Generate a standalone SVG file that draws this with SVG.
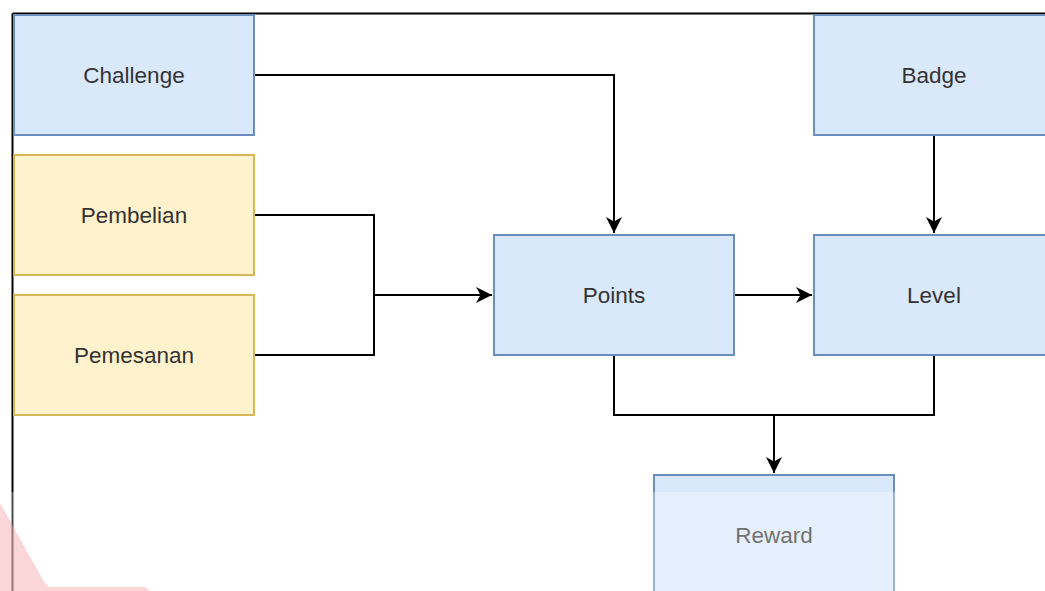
<svg xmlns="http://www.w3.org/2000/svg" width="1045" height="591" viewBox="0 0 1045 591">
  <style>
    .blue { fill: #dae8fc; stroke: #6c8ebf; stroke-width: 2; }
    .yellow { fill: #fff2cc; stroke: #d6b656; stroke-width: 2; }
    .lbl { font-family: "Liberation Sans", Arial, sans-serif; font-size: 22.5px; fill: #333333; text-anchor: middle; dominant-baseline: central; }
    .edge { fill: none; stroke: #000000; stroke-width: 2; }
  </style>
  <defs>
    <marker id="arrow" viewBox="0 0 17 17" refX="16" refY="8.5" markerWidth="17" markerHeight="17" markerUnits="userSpaceOnUse" orient="auto">
      <path d="M16,8.5 L0,0.5 L4.5,8.5 L0,16.5 Z" fill="#000000"/>
    </marker>
  </defs>
  <rect x="0" y="0" width="1045" height="591" fill="#ffffff"/>
  <g id="frame">
    <line x1="12.5" y1="13.5" x2="1045" y2="13.5" stroke="#000" stroke-width="2"/>
    <line x1="12.5" y1="13.5" x2="12.5" y2="591" stroke="#000" stroke-width="2"/>
  </g>
  <g id="connectors">
    <path class="edge" d="M254,75 H614 V233" marker-end="url(#arrow)"/>
    <path class="edge" d="M254,215 H374 V355 H254"/>
    <path class="edge" d="M374,295 H492" marker-end="url(#arrow)"/>
    <path class="edge" d="M734,295 H812" marker-end="url(#arrow)"/>
    <path class="edge" d="M934,135 V233" marker-end="url(#arrow)"/>
    <path class="edge" d="M614,355 V415 H934 V355"/>
    <path class="edge" d="M774,415 V473" marker-end="url(#arrow)"/>
  </g>
  <g id="node-challenge">
    <rect class="blue" x="14" y="15" width="240" height="120"/>
    <text class="lbl" x="134" y="75">Challenge</text>
  </g>
  <g id="node-badge">
    <rect class="blue" x="814" y="15" width="240" height="120"/>
    <text class="lbl" x="934" y="75">Badge</text>
  </g>
  <g id="node-pembelian">
    <rect class="yellow" x="14" y="155" width="240" height="120"/>
    <text class="lbl" x="134" y="215">Pembelian</text>
  </g>
  <g id="node-pemesanan">
    <rect class="yellow" x="14" y="295" width="240" height="120"/>
    <text class="lbl" x="134" y="355">Pemesanan</text>
  </g>
  <g id="node-points">
    <rect class="blue" x="494" y="235" width="240" height="120"/>
    <text class="lbl" x="614" y="295">Points</text>
  </g>
  <g id="node-level">
    <rect class="blue" x="814" y="235" width="240" height="120"/>
    <text class="lbl" x="934" y="295">Level</text>
  </g>
  <g id="node-reward">
    <rect class="blue" x="654" y="475" width="240" height="120"/>
    <text class="lbl" x="774" y="535">Reward</text>
  </g>
  <g id="watermark">
    <rect x="0" y="492" width="1045" height="99" fill="#ffffff" opacity="0.3"/>
    <polygon points="0,503 43,580 48,587 145,587 150,591 0,591" fill="#f3a3aa" opacity="0.45"/>
  </g>
</svg>
